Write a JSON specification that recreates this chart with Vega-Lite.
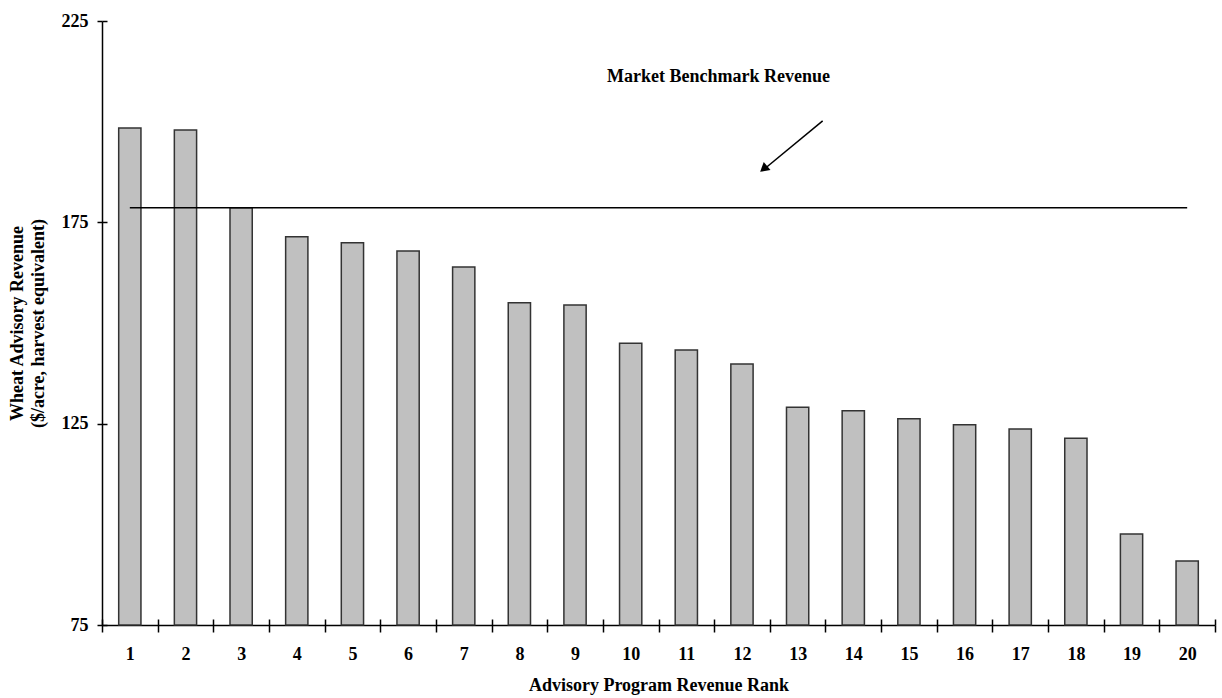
{
  "$schema": "https://vega.github.io/schema/vega-lite/v6.json",
  "width": 1113,
  "height": 604,
  "autosize": {"type": "none"},
  "padding": {"left": 102, "top": 21, "right": 7, "bottom": 73},
  "background": "white",
  "config": {
    "view": {"stroke": null},
    "font": "Liberation Serif",
    "axis": {"labelFont": "Liberation Serif", "titleFont": "Liberation Serif", "labelFontWeight": "bold", "titleFontWeight": "bold", "labelColor": "black", "titleColor": "black", "domainColor": "black", "tickColor": "black", "grid": false}
  },
  "datasets": {
    "bars": [
      {"rank": 1, "revenue": 198.4},
      {"rank": 2, "revenue": 197.9},
      {"rank": 3, "revenue": 178.6},
      {"rank": 4, "revenue": 171.4},
      {"rank": 5, "revenue": 169.9},
      {"rank": 6, "revenue": 167.9},
      {"rank": 7, "revenue": 163.9},
      {"rank": 8, "revenue": 155.0},
      {"rank": 9, "revenue": 154.5},
      {"rank": 10, "revenue": 145.0},
      {"rank": 11, "revenue": 143.3},
      {"rank": 12, "revenue": 139.8},
      {"rank": 13, "revenue": 129.1},
      {"rank": 14, "revenue": 128.2},
      {"rank": 15, "revenue": 126.2},
      {"rank": 16, "revenue": 124.7},
      {"rank": 17, "revenue": 123.7},
      {"rank": 18, "revenue": 121.4},
      {"rank": 19, "revenue": 97.6},
      {"rank": 20, "revenue": 90.9}
    ],
    "benchmark": [
      {"rank": 1, "revenue": 178.6},
      {"rank": 20, "revenue": 178.6}
    ],
    "arrow": [
      {"pos": 13.45, "revenue": 200.2},
      {"pos": 12.38, "revenue": 188.0}
    ],
    "arrowhead": [
      {"pos": 12.41, "revenue": 188.5}
    ],
    "label": [
      {"pos": 11.58, "revenue": 211.1, "text": "Market Benchmark Revenue"}
    ]
  },
  "layer": [
    {
      "layer": [
        {
          "data": {"name": "bars"},
          "mark": {"type": "bar", "fill": "#c0c0c0", "stroke": "#333333", "strokeWidth": 1.5, "width": {"band": 0.4}},
          "encoding": {
            "x": {"field": "rank", "type": "ordinal", "scale": {"paddingInner": 0, "paddingOuter": 0},
              "axis": {"title": "Advisory Program Revenue Rank", "labelAngle": 0, "tickBand": "extent", "tickSize": 7, "labelPadding": 13, "labelFontSize": 18, "titleFontSize": 18, "titlePadding": 13, "domainWidth": 1.5, "tickWidth": 1.5}},
            "y": {"field": "revenue", "type": "quantitative", "scale": {"domain": [75, 225], "nice": false, "zero": false},
              "axis": {"orient": "left", "title": ["Wheat Advisory Revenue", "($/acre, harvest equivalent)"], "values": [75, 125, 175, 225], "tickSize": 5, "labelPadding": 9, "labelFontSize": 18, "titleFontSize": 18, "titleLineHeight": 21, "titlePadding": 14, "domainWidth": 1.5, "tickWidth": 1.5}},
            "y2": {"datum": 75}
          }
        },
        {
          "data": {"name": "benchmark"},
          "mark": {"type": "line", "color": "black", "strokeWidth": 1.5},
          "encoding": {
            "x": {"field": "rank", "type": "ordinal"},
            "y": {"field": "revenue", "type": "quantitative"}
          }
        }
      ]
    },
    {
      "layer": [
        {
          "data": {"name": "arrow"},
          "mark": {"type": "line", "color": "black", "strokeWidth": 1.5},
          "encoding": {
            "x": {"field": "pos", "type": "quantitative", "scale": {"domain": [0.5, 20.5], "nice": false, "zero": false},
              "axis": {"orient": "bottom", "values": [0.5, 1.5, 2.5, 3.5, 4.5, 5.5, 6.5, 7.5, 8.5, 9.5, 10.5, 11.5, 12.5, 13.5, 14.5, 15.5, 16.5, 17.5, 18.5, 19.5, 20.5], "offset": -6, "tickSize": 6, "tickWidth": 1.5, "labels": false, "domain": false, "title": null}},
            "y": {"field": "revenue", "type": "quantitative",
              "axis": {"orient": "left", "values": [75, 125, 175, 225], "offset": -5, "tickSize": 5, "tickWidth": 1.5, "labels": false, "domain": false, "title": null}}
          }
        },
        {
          "data": {"name": "arrowhead"},
          "mark": {"type": "point", "shape": "triangle", "filled": true, "color": "black", "size": 110, "angle": 230, "opacity": 1},
          "encoding": {
            "x": {"field": "pos", "type": "quantitative"},
            "y": {"field": "revenue", "type": "quantitative"}
          }
        },
        {
          "data": {"name": "label"},
          "mark": {"type": "text", "font": "Liberation Serif", "fontWeight": "bold", "fontSize": 18, "color": "black", "align": "center", "baseline": "middle"},
          "encoding": {
            "x": {"field": "pos", "type": "quantitative"},
            "y": {"field": "revenue", "type": "quantitative"},
            "text": {"field": "text"}
          }
        }
      ]
    }
  ],
  "resolve": {"scale": {"x": "independent"}, "axis": {"x": "independent", "y": "independent"}}
}
